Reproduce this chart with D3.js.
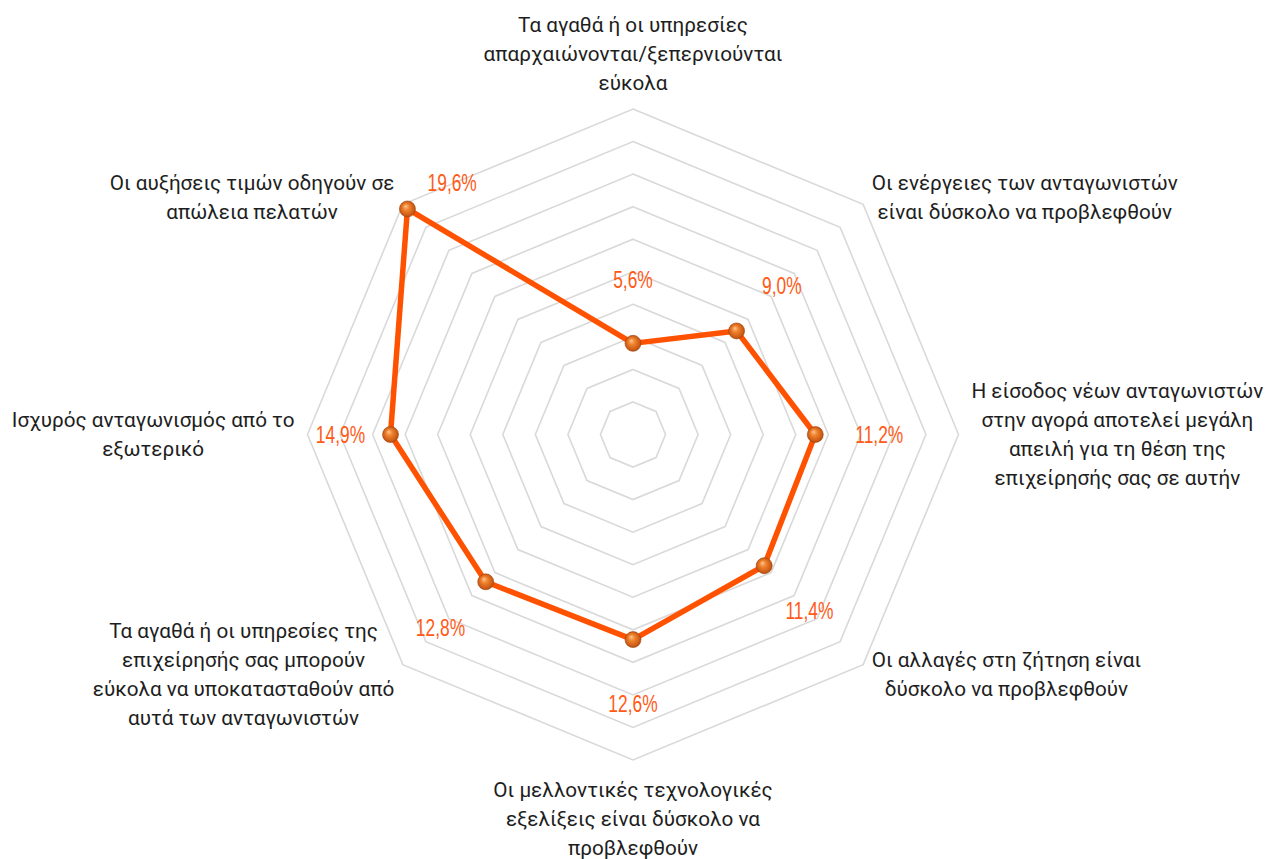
<!DOCTYPE html>
<html lang="el">
<head>
<meta charset="utf-8">
<title>Radar</title>
<script src="https://cdn.jsdelivr.net/npm/d3@7"></script>
<style>
  html, body { margin: 0; padding: 0; background: #ffffff; }
  svg { display: block; }
  .cat { font-family: Roboto, "Noto Sans", sans-serif; font-size: 20.7px; fill: #1e1e1e; }
  .val { font-family: "Liberation Sans", Arial, sans-serif; font-size: 23.5px; fill: #ff5a16; }
</style>
</head>
<body>
<svg id="chart" width="1266" height="859"></svg>
<script>
// Category labels, already broken into display lines (clockwise from the top)
const categoryLines = [
  ["Τα αγαθά ή οι υπηρεσίες", "απαρχαιώνονται/ξεπερνιούνται", "εύκολα"],
  ["Οι ενέργειες των ανταγωνιστών", "είναι δύσκολο να προβλεφθούν"],
  ["Η είσοδος νέων ανταγωνιστών", "στην αγορά αποτελεί μεγάλη", "απειλή για τη θέση της", "επιχείρησής σας σε αυτήν"],
  ["Οι αλλαγές στη ζήτηση είναι", "δύσκολο να προβλεφθούν"],
  ["Οι μελλοντικές τεχνολογικές", "εξελίξεις είναι δύσκολο να", "προβλεφθούν"],
  ["Τα αγαθά ή οι υπηρεσίες της", "επιχείρησής σας μπορούν", "εύκολα να υποκατασταθούν από", "αυτά των ανταγωνιστών"],
  ["Ισχυρός ανταγωνισμός από το", "εξωτερικό"],
  ["Οι αυξήσεις τιμών οδηγούν σε", "απώλεια πελατών"]
];

// Share of responses per category (%)
const values = [5.6, 9.0, 11.2, 11.4, 12.6, 12.8, 14.9, 19.6];

// Radial grid levels (%)
const gridLevels = [2, 4, 6, 8, 10, 12, 14, 16, 18, 20];

const svg = d3.select("#chart");
const cx = 633, cy = 434.5;
const rMax = 325.5;
const n = values.length;

const r = d3.scaleLinear().domain([0, 20]).range([0, rMax]);
const angle = d3.scaleLinear().domain([0, n]).range([0, 2 * Math.PI]);

// polar -> cartesian, angle 0 at 12 o'clock, clockwise
const pt = (i, rad) => [cx + rad * Math.sin(angle(i)), cy - rad * Math.cos(angle(i))];

const g = svg.append("g").attr("transform", `translate(${cx},${cy})`);

// octagonal grid rings
const ring = d3.lineRadial()
  .angle((d, i) => angle(i))
  .radius(d => d)
  .curve(d3.curveLinearClosed);

g.selectAll("path.grid")
  .data(gridLevels)
  .join("path")
  .attr("class", "grid")
  .attr("d", lv => ring(d3.range(n).map(() => r(lv))))
  .attr("fill", "none")
  .attr("stroke", "#d9d9d9")
  .attr("stroke-width", 1.6);

// data polygon
const series = d3.lineRadial()
  .angle((d, i) => angle(i))
  .radius(d => r(d))
  .curve(d3.curveLinearClosed);

g.append("path")
  .datum(values)
  .attr("d", series)
  .attr("fill", "none")
  .attr("stroke", "#ff5200")
  .attr("stroke-width", 5.5)
  .attr("stroke-linejoin", "round");

// spherical markers
const defs = svg.append("defs");
const grad = defs.append("radialGradient")
  .attr("id", "ball")
  .attr("cx", "50%").attr("cy", "50%").attr("r", "55%")
  .attr("fx", "38%").attr("fy", "32%");
grad.append("stop").attr("offset", "0%").attr("stop-color", "#fcc596");
grad.append("stop").attr("offset", "35%").attr("stop-color", "#f0842f");
grad.append("stop").attr("offset", "80%").attr("stop-color", "#cc5b15");
grad.append("stop").attr("offset", "100%").attr("stop-color", "#9c420f");

svg.selectAll("circle.marker")
  .data(values)
  .join("circle")
  .attr("class", "marker")
  .attr("cx", (d, i) => pt(i, r(d))[0])
  .attr("cy", (d, i) => pt(i, r(d))[1])
  .attr("r", 8)
  .attr("fill", "url(#ball)")
  .attr("stroke", "#a5470f")
  .attr("stroke-width", 0.6);

// value labels, pushed outward from each marker (narrow lettering)
const fmt = v => d3.format(".1f")(v).replace(".", ",") + "%";
const labelDist = 64;
const labelNudge = { 6: [14, 0], 7: [90, 19] };
const squeeze = 0.74;

svg.selectAll("text.val")
  .data(values)
  .join("text")
  .attr("class", "val")
  .attr("text-anchor", "middle")
  .attr("dominant-baseline", "central")
  .attr("transform", (d, i) => {
    const [x, y] = pt(i, r(d) + labelDist);
    const nx = labelNudge[i] ? labelNudge[i][0] : 0;
    const ny = labelNudge[i] ? labelNudge[i][1] : 0;
    return `translate(${x + nx},${y + ny}) scale(${squeeze},1)`;
  })
  .text(fmt);

// category labels around the outer ring
const lineH = 29;
const ascent = 7;
categoryLines.forEach((lines, i) => {
  const [vx, vy] = pt(i, rMax);
  const dx = Math.sin(angle(i)), dy = -Math.cos(angle(i));
  const t = svg.append("text").attr("class", "cat").attr("text-anchor", "middle");
  const spans = lines.map(s => t.append("tspan").text(s));
  const w = d3.max(spans, s => s.node().getComputedTextLength());

  let bx, by0; // block centre x, first baseline y
  if (Math.abs(dx) < 1e-6) {
    bx = vx;
    by0 = dy < 0 ? vy - 19 - (lines.length - 1) * lineH : vy + 37;
  } else {
    const pad = Math.abs(dy) < 1e-6 ? 13 : 8.5;
    bx = dx > 0 ? vx + pad + w / 2 : vx - pad - w / 2;
    const midY = Math.abs(dy) < 1e-6 ? vy : vy + (dy > 0 ? 10 : -6.5);
    by0 = midY - (lines.length - 1) * lineH / 2 + ascent;
  }
  spans.forEach((s, k) => s.attr("x", bx).attr("y", by0 + k * lineH));
});
</script>
</body>
</html>
